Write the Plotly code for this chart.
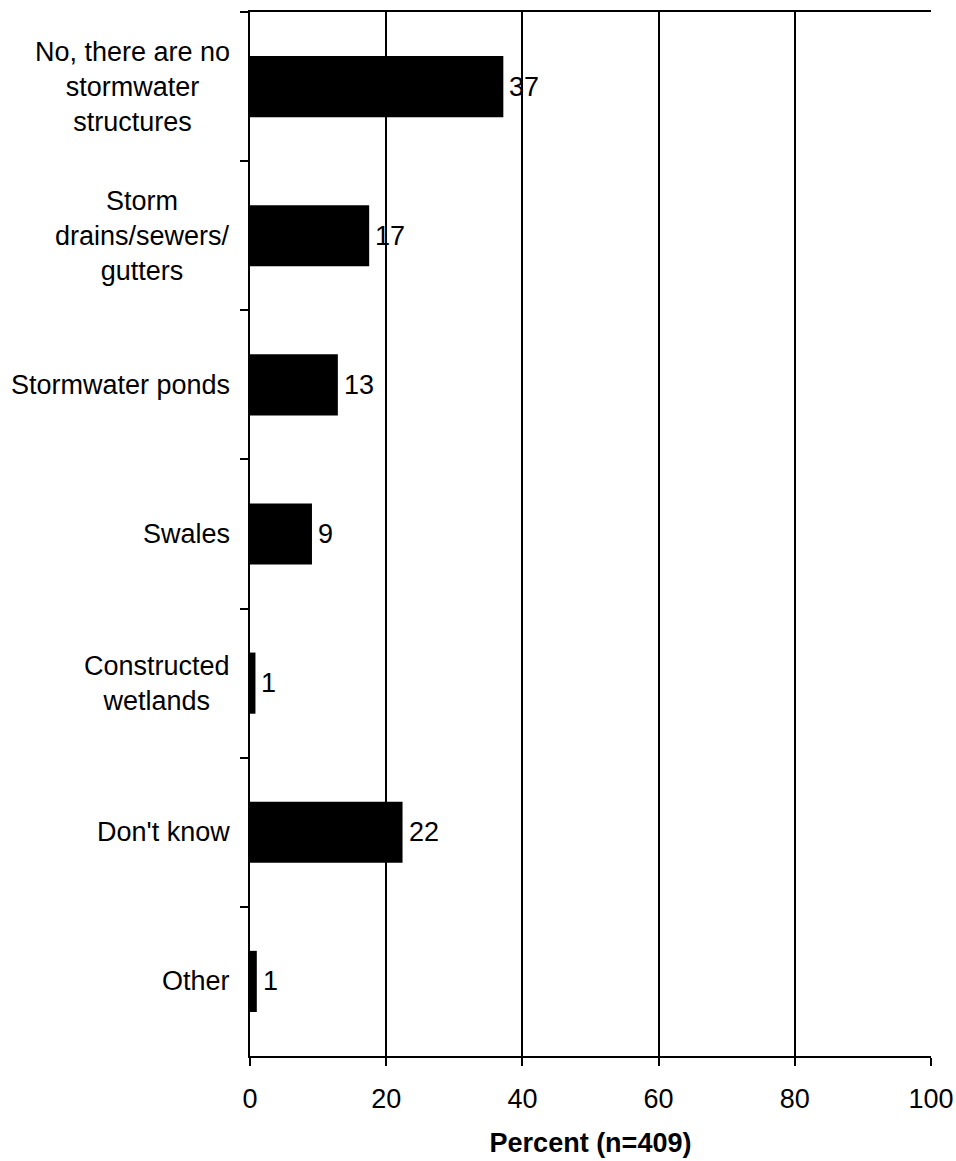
import plotly.graph_objects as go

categories = [
    "No, there are no<br>stormwater<br>structures",
    "Storm<br>drains/sewers/<br>gutters",
    "Stormwater ponds",
    "Swales",
    "Constructed<br>wetlands",
    "Don't know",
    "Other",
]
values = [37.2, 17.5, 12.9, 9.1, 0.8, 22.4, 1.0]
value_labels = ["37", "17", "13", "9", "1", "22", "1"]
x_ticks = [0, 20, 40, 60, 80, 100]

FONT = "Liberation Sans, Arial, sans-serif"
FS = 27

fig = go.Figure()
fig.add_trace(go.Bar(
    x=values,
    y=categories,
    orientation="h",
    marker=dict(color="black", line=dict(width=0)),
    width=0.41,
))

for cat, v, lab in zip(categories, values, value_labels):
    fig.add_annotation(
        x=v, xref="x", y=cat, yref="y",
        text=lab, showarrow=False,
        xanchor="left", yanchor="middle",
        xshift=4,
        font=dict(family=FONT, size=FS, color="black"),
    )

for cat in categories:
    fig.add_annotation(
        x=0, xref="paper", y=cat, yref="y",
        text=cat, showarrow=False,
        xanchor="right", yanchor="middle", align="center",
        xshift=-18,
        font=dict(family=FONT, size=FS, color="black"),
    )

fig.update_layout(
    width=956, height=1161,
    margin=dict(l=250, r=25, t=12, b=105),
    paper_bgcolor="white", plot_bgcolor="white",
    showlegend=False,
    font=dict(family=FONT, size=FS, color="black"),
)
fig.update_xaxes(
    range=[0, 100],
    tickvals=x_ticks,
    ticktext=[str(v) for v in x_ticks],
    showgrid=True, gridcolor="black", gridwidth=2,
    zeroline=False,
    showline=True, linecolor="black", linewidth=2, mirror=True,
    ticks="outside", ticklen=8, tickwidth=2, tickcolor="black",
    ticklabelstandoff=10,
    tickfont=dict(family=FONT, size=FS, color="black"),
    title=dict(text="<b>Percent (n=409)</b>", font=dict(family=FONT, size=FS, color="black"), standoff=20),
    automargin=False,
)
fig.update_yaxes(
    categoryorder="array", categoryarray=categories,
    range=[6.5, -0.5],
    showgrid=False, zeroline=False,
    showline=True, linecolor="black", linewidth=2,
    ticks="outside", tickson="boundaries", ticklen=8, tickwidth=2, tickcolor="black",
    showticklabels=False,
    automargin=False,
)

fig.write_html("out.html", config={"displayModeBar": False},
               post_script="document.body.style.margin='0';")
